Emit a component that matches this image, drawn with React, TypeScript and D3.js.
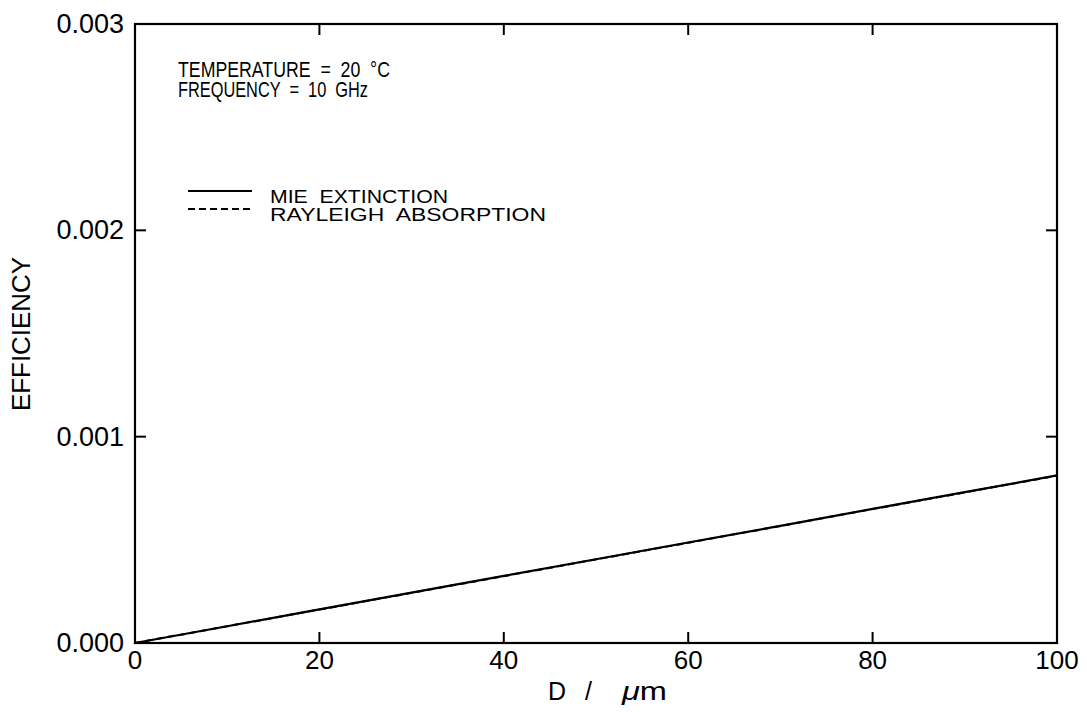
import React from "react";
import * as d3 from "d3";

const diameters = [0, 10, 20, 30, 40, 50, 60, 70, 80, 90, 100];
const mieExtinction = [0, 0.0000812, 0.000163, 0.000244, 0.000325, 0.000406, 0.000487, 0.000568, 0.00065, 0.000731, 0.000812];
const rayleighAbsorption = [0, 0.0000811, 0.000162, 0.000243, 0.000324, 0.000405, 0.000486, 0.000567, 0.000649, 0.00073, 0.000811];
const xTicks = [0, 20, 40, 60, 80, 100];
const yTicks = [0, 0.001, 0.002, 0.003];
const annotations = ["TEMPERATURE  =  20  °C", "FREQUENCY  =  10  GHz"];
const legendItems = [
  { label: "MIE  EXTINCTION", dash: "none" },
  { label: "RAYLEIGH  ABSORPTION", dash: "7,4" },
];

export default function App() {
  const W = 1087, H = 712;
  const m = { left: 135, right: 1057, top: 24, bottom: 643 };
  const x = d3.scaleLinear().domain([0, 100]).range([m.left, m.right]);
  const y = d3.scaleLinear().domain([0, 0.003]).range([m.bottom, m.top]);
  const line = d3.line<number>().x((_, i) => x(diameters[i])).y((v) => y(v));
  const font = "'Liberation Sans', Arial, sans-serif";
  const tl = 11;
  const annLen = [212, 190];
  const legLen = [178, 276];
  const pre = { whiteSpace: "pre" as const };
  return (
    <svg width={W} height={H} style={{ position: "absolute", left: 0, top: 0, background: "#fff" }} fontFamily={font}>
      <rect x={m.left} y={m.top} width={m.right - m.left} height={m.bottom - m.top} fill="none" stroke="#000" strokeWidth={2.2} />
      {xTicks.map((t) => (
        <g key={"x" + t}>
          <line x1={x(t)} x2={x(t)} y1={m.bottom} y2={m.bottom - tl} stroke="#000" strokeWidth={2} />
          <line x1={x(t)} x2={x(t)} y1={m.top} y2={m.top + tl} stroke="#000" strokeWidth={2} />
          <text x={x(t)} y={m.bottom + 26} textAnchor="middle" fontSize={26}>{t}</text>
        </g>
      ))}
      {yTicks.map((t) => (
        <g key={"y" + t}>
          <line x1={m.left} x2={m.left + tl} y1={y(t)} y2={y(t)} stroke="#000" strokeWidth={2} />
          <line x1={m.right} x2={m.right - tl} y1={y(t)} y2={y(t)} stroke="#000" strokeWidth={2} />
          <text x={124} y={y(t) + 9} textAnchor="end" fontSize={27}>{t.toFixed(3)}</text>
        </g>
      ))}
      <path d={line(rayleighAbsorption) || ""} fill="none" stroke="#000" strokeWidth={2} strokeDasharray="7,4" />
      <path d={line(mieExtinction) || ""} fill="none" stroke="#000" strokeWidth={2.2} />
      {annotations.map((a, i) => (
        <text key={a} x={178} y={77 + i * 20} fontSize={22} style={pre} textLength={annLen[i]} lengthAdjust="spacingAndGlyphs">{a}</text>
      ))}
      {legendItems.map((it, i) => (
        <g key={it.label}>
          <line x1={188} x2={252} y1={191 + i * 18} y2={191 + i * 18} stroke="#000" strokeWidth={2} strokeDasharray={it.dash} />
          <text x={270} y={203 + i * 18} fontSize={19} style={pre} textLength={legLen[i]} lengthAdjust="spacingAndGlyphs">{it.label}</text>
        </g>
      ))}
      <text transform={`translate(30, 334) rotate(-90)`} textAnchor="middle" fontSize={25} textLength={154} lengthAdjust="spacingAndGlyphs">EFFICIENCY</text>
      <text x={548} y={700} fontSize={25}>D</text>
      <text x={585} y={700} fontSize={25}>/</text>
      <text x={622} y={700} fontSize={25} textLength={45} lengthAdjust="spacingAndGlyphs"><tspan fontStyle="italic">μ</tspan>m</text>
    </svg>
  );
}
